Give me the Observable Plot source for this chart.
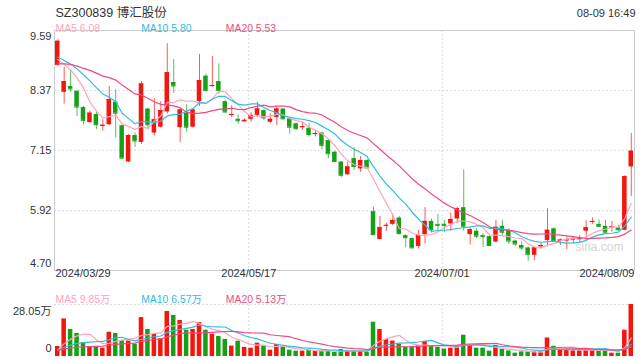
<!DOCTYPE html>
<html><head><meta charset="utf-8">
<script src="https://cdn.jsdelivr.net/npm/d3@7"></script>
<script src="https://cdn.jsdelivr.net/npm/@observablehq/plot@0.6"></script>
<style>
body{margin:0;background:#fff;}
#wrap{position:relative;width:640px;height:360px;overflow:hidden;background:#fff;}
#wrap svg{position:absolute;left:0;}
</style></head><body><div id="wrap"></div>
<script>
const title = "SZ300839 博汇股份";
const stamp = "08-09 16:49";
const priceLegend = ["MA5 6.08", "MA10 5.80", "MA20 5.53"];
const volLegend = ["MA5 9.85万", "MA10 6.57万", "MA20 5.13万"];
const yTicks = [9.59, 8.37, 7.15, 5.92, 4.70];
const yTickLabels = ["9.59", "8.37", "7.15", "5.92", "4.70"];
const volMax = 28.05;
const volTickLabels = ["28.05万", "0"];
const dateTickIndex = [0, 30, 60, 89];
const dateTickLabels = ["2024/03/29", "2024/05/17", "2024/07/01", "2024/08/09"];

// 19 closes / volumes before 2024/03/29 (estimated from where the MA lines start)
const prevClose = [8.55, 8.62, 8.70, 8.68, 8.75, 8.80, 8.85, 8.82, 8.90, 9.03, 9.25, 9.15, 9.00, 8.95, 9.15, 9.05, 8.95, 8.85, 8.78];
const prevVolume = [3.2, 2.8, 3.0, 3.5, 2.9, 3.1, 2.7, 3.3, 3.0, 2.8, 3.4, 3.1, 2.9, 3.0, 3.2, 2.8, 3.1, 3.0, 2.9];

const open = [8.88,8.33,8.45,8.35,8.02,7.715,7.88,7.64,7.67,8.13,
7.65,6.91,7.45,7.31,7.99,7.50,7.62,7.93,8.53,7.61,
7.905,7.62,8.14,8.66,8.45,8.55,8.14,7.86,7.78,7.73,
7.78,7.86,7.96,7.72,7.82,7.99,7.79,7.69,7.61,7.60,
7.47,7.50,7.35,7.11,6.91,6.65,6.98,6.77,6.94,5.90,
5.33,5.61,5.64,5.77,5.41,5.35,5.19,5.43,5.70,5.64,
5.64,5.65,5.75,5.98,5.43,5.50,5.41,5.39,5.28,5.60,
5.52,5.30,5.21,5.16,5.01,5.18,5.31,5.55,5.30,5.30,
5.33,5.34,5.50,5.68,5.64,5.60,5.57,5.57,5.52,6.81];
const high = [9.40,8.84,8.79,8.37,8.04,7.95,7.92,7.77,8.45,8.38,
7.66,7.47,7.50,8.55,8.01,8.20,8.14,9.32,9.00,7.99,
8.08,7.99,9.10,8.70,9.06,8.91,8.16,8.06,7.87,7.79,
7.92,8.13,7.97,7.89,8.03,8.00,7.80,7.70,7.72,7.69,
7.55,7.52,7.36,7.13,6.92,6.91,7.20,7.02,6.96,5.99,
5.80,5.665,5.85,5.80,5.43,5.36,5.52,5.98,5.75,5.84,
5.72,5.87,5.99,6.75,5.57,5.55,5.45,5.41,5.72,5.72,
5.55,5.32,5.28,5.18,5.18,5.26,5.96,5.57,5.34,5.38,
5.39,5.41,5.71,5.77,5.73,5.72,5.70,5.62,6.63,7.49];
const low = [8.86,8.09,8.33,7.84,7.67,7.70,7.57,7.54,7.65,7.40,
6.97,6.90,7.21,7.27,7.57,7.44,7.60,7.89,8.31,7.31,
7.52,7.60,8.04,8.33,8.43,8.30,7.91,7.81,7.68,7.72,
7.72,7.82,7.75,7.70,7.65,7.77,7.48,7.55,7.55,7.42,
7.42,7.16,6.98,6.91,6.59,6.64,6.74,6.70,6.78,5.42,
5.33,5.495,5.61,5.43,5.16,5.15,5.14,5.24,5.46,5.48,
5.47,5.50,5.65,5.50,5.22,5.35,5.17,5.19,5.27,5.41,
5.23,5.19,5.11,4.89,4.90,5.14,5.18,5.28,5.21,5.12,
5.24,5.26,5.31,5.64,5.58,5.47,5.48,5.50,5.51,6.21];
const close = [9.37,8.55,8.40,8.03,7.76,7.905,7.67,7.66,8.18,7.905,
6.99,7.45,7.34,8.50,7.67,7.77,7.96,8.73,8.46,7.97,
7.62,7.97,8.57,8.37,8.47,8.37,7.93,7.88,7.75,7.76,
7.86,7.99,7.81,7.78,7.99,7.79,7.62,7.59,7.63,7.47,
7.49,7.25,7.08,6.92,6.64,6.81,6.82,6.94,6.79,5.43,
5.57,5.62,5.72,5.45,5.37,5.16,5.41,5.70,5.53,5.62,
5.62,5.74,5.96,5.60,5.53,5.40,5.39,5.21,5.58,5.48,
5.30,5.24,5.16,5.03,5.16,5.21,5.52,5.31,5.32,5.33,
5.34,5.35,5.57,5.70,5.60,5.48,5.59,5.53,6.61,7.13];
// volume in 万手
const volume = [5.4,20.3,14.6,12.4,7.2,5.4,5.4,4.5,13.1,12.4,
8.6,8.3,6.7,21.0,14.6,12.0,9.5,24.3,22.1,19.4,
14.2,14.6,18.3,14.2,12.0,10.8,9.2,5.6,8.3,4.9,
4.5,7.2,5.6,3.4,6.5,4.9,3.4,2.9,2.9,3.4,
2.9,2.9,2.9,2.2,3.8,2.9,2.9,2.9,2.2,18.5,
14.6,9.2,8.3,6.7,5.0,5.0,5.8,8.1,5.6,4.9,
4.0,4.5,5.6,11.5,6.5,4.5,4.5,2.9,5.9,3.8,
3.0,1.8,2.5,2.5,2.5,2.5,10.0,5.5,3.6,3.5,
3.0,3.0,4.0,3.5,3.0,3.4,1.8,1.8,14.2,28.05];

const RED = "#f5150c", GREEN = "#16a016";
const C5 = "#ffa3bd", C10 = "#2fbde0", C20 = "#ef4a80";
const GRID = "#d8d8d8";
const FONT = "Arial, 'Liberation Sans', 'Noto Sans CJK SC', sans-serif";

const N = close.length;
const idx = d3.range(N);
const candles = idx.map(i => ({i, o: open[i], h: high[i], l: low[i], c: close[i], v: volume[i], up: close[i] >= open[i]}));
const colorOf = d => d.up ? RED : GREEN;

function movingAvg(prev, arr, n) {
  const all = prev.concat(arr);
  const off = prev.length;
  return idx.map(i => d3.mean(all.slice(off + i - n + 1, off + i + 1)));
}
const pMA = [movingAvg(prevClose, close, 5), movingAvg(prevClose, close, 10), movingAvg(prevClose, close, 20)];
const vMA = [movingAvg(prevVolume, volume, 5), movingAvg(prevVolume, volume, 10), movingAvg(prevVolume, volume, 20)];
const maColors = [C5, C10, C20];
const legendDx = [1, 86.7, 171.3];

const xScale = {type: "linear", domain: [-0.5, N - 0.5]};
const hw = 0.35;

const price = Plot.plot({
  width: 640, height: 282,
  marginLeft: 54, marginRight: 6, marginTop: 30, marginBottom: 12,
  x: {...xScale, axis: null},
  y: {domain: [yTicks[yTicks.length - 1], yTicks[0]], axis: null},
  color: {type: "identity"},
  style: {fontFamily: FONT, fontSize: "11px", background: "transparent", overflow: "visible"},
  marks: [
    Plot.ruleY(yTicks.slice(1, -1), {stroke: GRID, strokeDasharray: "2,2"}),
    Plot.ruleX(dateTickIndex.slice(1, -1), {x: d => d - hw, stroke: GRID, strokeDasharray: "2,2"}),
    Plot.frame({stroke: "#cccccc"}),
    Plot.text(["sina.com"], {frameAnchor: "bottom-right", dx: -11, dy: -20, textAnchor: "end", fill: "#d4d4d4", fontSize: 12, text: d => d}),
    Plot.ruleX(candles, {x: "i", y1: "l", y2: "h", stroke: colorOf, strokeOpacity: 0.7}),
    Plot.rectY(candles, {x1: d => d.i - hw, x2: d => d.i + hw, y1: "o", y2: "c", fill: colorOf}),
    Plot.ruleY(candles, {y: "c", x1: d => d.i - hw, x2: d => d.i + hw, stroke: colorOf}),
    ...pMA.map((m, k) => Plot.line(idx, {x: d => d, y: d => m[d], stroke: maColors[k], strokeWidth: 1.2})),
    // y tick labels
    Plot.text([0], {y: d => yTicks[d], text: d => yTickLabels[d], frameAnchor: "left", dx: -3, dy: 6, textAnchor: "end", fill: "#333"}),
    Plot.text([1, 2, 3], {y: d => yTicks[d], text: d => yTickLabels[d], frameAnchor: "left", dx: -3, textAnchor: "end", fill: "#333"}),
    Plot.text([4], {y: d => yTicks[d], text: d => yTickLabels[d], frameAnchor: "left", dx: -3, dy: -7, textAnchor: "end", fill: "#333"}),
    // date labels
    Plot.text([0], {text: d => dateTickLabels[d], frameAnchor: "bottom-left", dx: 1, dy: 6.5, textAnchor: "start", fill: "#333"}),
    Plot.text([1, 2], {x: d => dateTickIndex[d] - hw, text: d => dateTickLabels[d], frameAnchor: "bottom", dy: 6.5, textAnchor: "middle", fill: "#333"}),
    Plot.text([3], {text: d => dateTickLabels[d], frameAnchor: "bottom-right", dx: 0, dy: 6.5, textAnchor: "end", fill: "#333"}),
    // header
    Plot.text([title], {text: d => d, frameAnchor: "top-left", dx: 1, dy: -22, textAnchor: "start", fill: "#333", fontSize: 12.5}),
    Plot.text([stamp], {text: d => d, frameAnchor: "top-right", dx: 1, dy: -21, textAnchor: "end", fill: "#333"}),
    ...priceLegend.map((t, k) => Plot.text([t], {text: d => d, frameAnchor: "top-left", dx: legendDx[k], dy: -6, textAnchor: "start", fill: maColors[k], fontSize: 10.4}))
  ]
});
price.style.top = "0px";

const vol = Plot.plot({
  width: 640, height: 78,
  marginLeft: 54, marginRight: 6, marginTop: 22, marginBottom: 4,
  x: {...xScale, axis: null},
  y: {domain: [0, volMax], axis: null},
  color: {type: "identity"},
  style: {fontFamily: FONT, fontSize: "11px", background: "transparent", overflow: "visible"},
  marks: [
    Plot.ruleY([volMax], {stroke: GRID, strokeDasharray: "2,2"}),
    Plot.ruleX(dateTickIndex.slice(1, -1), {x: d => d - hw, stroke: GRID, strokeDasharray: "2,2"}),
    Plot.rectY(candles, {x1: d => d.i - hw, x2: d => d.i + hw, y1: 0, y2: "v", fill: colorOf}),
    ...vMA.map((m, k) => Plot.line(idx, {x: d => d, y: d => m[d], stroke: maColors[k], strokeWidth: 1.2})),
    Plot.text([0], {y: () => volMax, text: d => volTickLabels[d], frameAnchor: "left", dx: -3, dy: 7, textAnchor: "end", fill: "#333"}),
    Plot.text([1], {y: () => 0, text: d => volTickLabels[d], frameAnchor: "left", dx: -3, dy: -8, textAnchor: "end", fill: "#333"}),
    ...volLegend.map((t, k) => Plot.text([t], {text: d => d, frameAnchor: "top-left", dx: legendDx[k], dy: -9, textAnchor: "start", fill: maColors[k], fontSize: 10.4}))
  ]
});
vol.style.top = "282px";

const wrap = document.getElementById("wrap");
wrap.appendChild(price);
wrap.appendChild(vol);
</script></body></html>
